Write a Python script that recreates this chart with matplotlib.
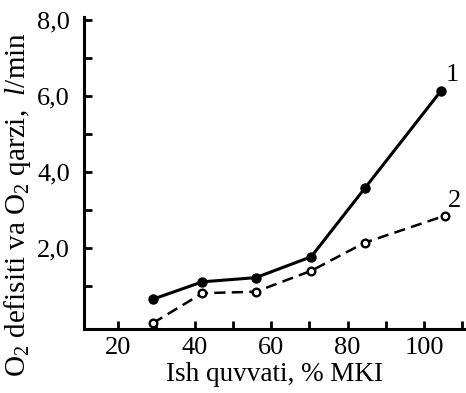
import matplotlib
matplotlib.use("Agg")
import matplotlib.pyplot as plt

# work load (% MKI) and O2 deficit / O2 debt (l/min)
load_1 = [29, 42, 56, 70.5, 84.5, 104.5]
deficit_1 = [0.65, 1.11, 1.22, 1.77, 3.57, 6.14]
load_2 = [29, 42, 56, 70.5, 84.5, 105.5]
debt_2 = [0.02, 0.81, 0.85, 1.40, 2.14, 2.85]

x_ticks = [20, 40, 60, 80, 100]
y_ticks = [2, 4, 6, 8]
y_labels = ["2,0", "4,0", "6,0", "8,0"]

plt.rcParams["font.family"] = ["Liberation Serif", "DejaVu Serif"]
plt.rcParams["mathtext.fontset"] = "custom"
plt.rcParams["mathtext.rm"] = "Liberation Serif"
plt.rcParams["mathtext.it"] = "Liberation Serif:italic"

fig = plt.figure(figsize=(4.66, 3.93), dpi=100)
ax = fig.add_axes([0.180, 0.163, 0.82, 0.794])

ax.plot(load_1, deficit_1, color="black", lw=2.2, marker="o", ms=6.5,
        mfc="black", mec="black", clip_on=False)
ax.plot(load_2, debt_2, color="black", lw=1.8, ls=(0, (4.5, 2.5)), marker="o", ms=5.5,
        mfc="white", mec="black", mew=1.7, clip_on=False)

ax.text(load_1[-1] + 2.8, deficit_1[-1] + 0.4, "1", fontsize=19, ha="center", va="center")
ax.text(load_2[-1] + 2.5, debt_2[-1] + 0.38, "2", fontsize=19, ha="center", va="center")

ax.set_xlim(11, 111)
ax.set_ylim(-0.13, 8.08)
ax.set_xticks(x_ticks)
ax.set_xticks(range(30, 111, 20), minor=True)
ax.set_yticks(y_ticks)
ax.set_yticklabels(y_labels)
ax.set_yticks([1, 3, 5, 7], minor=True)
ax.tick_params(which="both", direction="in", length=6, width=2, labelsize=19)
ax.tick_params(axis="y", pad=10)
ax.tick_params(axis="x", pad=6)

for s in ["top", "right"]:
    ax.spines[s].set_visible(False)
for s in ["left", "bottom"]:
    ax.spines[s].set_linewidth(2.2)

ax.set_xlabel("Ish quvvati, % MKI", fontsize=19.5, labelpad=2)
ax.set_ylabel(r"O$_2$ defisiti va O$_2$ qarzi,  $l$/min", fontsize=21)
ax.yaxis.set_label_coords(-0.133, 0.40)

fig.savefig("out.png", dpi=100)
